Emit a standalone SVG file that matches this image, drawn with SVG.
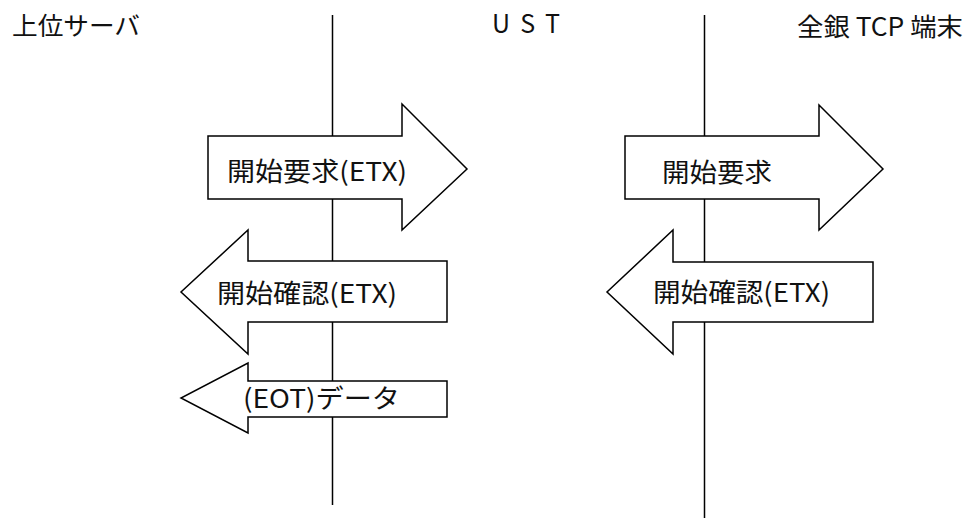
<svg xmlns="http://www.w3.org/2000/svg" width="970" height="518" viewBox="0 0 970 518">
<style>
.ln{stroke:#000;stroke-width:1.5;fill:none}
.ar{fill:#fff;stroke:#000;stroke-width:1.5;stroke-linejoin:miter}
text{font-family:"Noto Sans CJK JP","Liberation Sans",sans-serif;fill:#111;font-size:25px}
.lb{font-size:26px}
</style>
<rect width="970" height="518" fill="#fff"/>
<g id="lifelines">
<line class="ln" x1="332.5" y1="15" x2="332.5" y2="505"/>
<line class="ln" x1="704.5" y1="15" x2="704.5" y2="518"/>
</g>
<g id="headers">
<text x="12" y="35" textLength="128" lengthAdjust="spacingAndGlyphs">上位サーバ</text>
<text x="492" y="33" textLength="68" lengthAdjust="spacing">UST</text>
<text x="797" y="36" textLength="166" lengthAdjust="spacingAndGlyphs">全銀 TCP 端末</text>
</g>
<g id="connectors">
<g id="msg1">
<polygon class="ar" points="208,136 402,136 402,104 467,169 402,230 402,199 208,199"/>
<text class="lb" x="227" y="181" textLength="180" lengthAdjust="spacingAndGlyphs">開始要求(ETX)</text>
</g>
<g id="msg2">
<polygon class="ar" points="447,261 248,261 248,230 181,292 248,354 248,322 447,322"/>
<text class="lb" x="217" y="303" textLength="180" lengthAdjust="spacingAndGlyphs">開始確認(ETX)</text>
</g>
<g id="msg3">
<polygon class="ar" points="447,381 248,381 248,363 181,398 248,433 248,417 447,417"/>
<text class="lb" x="243" y="408" textLength="157" lengthAdjust="spacingAndGlyphs">(EOT)データ</text>
</g>
<g id="msg4">
<polygon class="ar" points="625,136 819,136 819,105 883,169 819,230 819,199 625,199"/>
<text class="lb" x="662" y="182" textLength="110" lengthAdjust="spacingAndGlyphs">開始要求</text>
</g>
<g id="msg5">
<polygon class="ar" points="873,262 673,262 673,230 607,292 673,354 673,322 873,322"/>
<text class="lb" x="653" y="302" textLength="177" lengthAdjust="spacingAndGlyphs">開始確認(ETX)</text>
</g>
</g>
</svg>
